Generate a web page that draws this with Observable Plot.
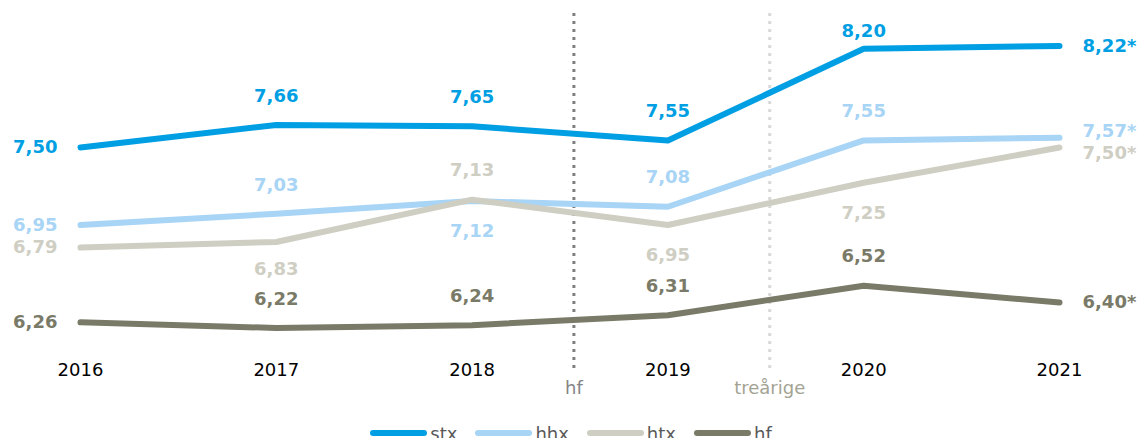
<!DOCTYPE html>
<html>
<head>
<meta charset="utf-8">
<script src="https://cdn.jsdelivr.net/npm/d3@7"></script>
<script src="https://cdn.jsdelivr.net/npm/@observablehq/plot@0.6"></script>
<style>
  html, body { margin: 0; padding: 0; background: #fff; overflow: hidden; }
  #chart svg { display: block; }
  #legend { height: 36px; display: flex; align-items: center; justify-content: center;
    font-family: "DejaVu Sans", Verdana, sans-serif; font-size: 18px; color: #595959; }
  .item { display: flex; align-items: center; margin: 0 9px; }
  .sw { display: inline-block; width: 57px; height: 6px; border-radius: 3px; margin-right: 3px; }
</style>
</head>
<body>
<div id="chart"></div>
<div id="legend"></div>
<script>
// ---- data ----
const years = [2016, 2017, 2018, 2019, 2020, 2021];
const seriesNames = ["stx", "hhx", "htx", "hf"];
const stx = [7.50, 7.66, 7.65, 7.55, 8.20, 8.22];
const hhx = [6.95, 7.03, 7.12, 7.08, 7.55, 7.57];
const htx = [6.79, 6.83, 7.13, 6.95, 7.25, 7.50];
const hf  = [6.26, 6.22, 6.24, 6.31, 6.52, 6.40];
const starredYear = 2021;              // values marked with *
const markerYears = [2018.52, 2019.52]; // reform markers between years
const markerLabels = ["hf", "treårige"];

// ---- styling ----
const colors = ["#009fe3", "#a8d4f5", "#cfcec3", "#7a7a68"];
const markerColors = ["#7f7f7f", "#d9d9d9"];
const markerTextColors = ["#858585", "#a3a393"];
// label placement per series (per year)
const placement = {
  stx: ["left", "above", "above", "above", "aboveNear", "right"],
  hhx: ["left", "above", "below", "above", "above", "rightUp"],
  htx: ["left", "belowNear", "above", "below", "below", "rightDown"],
  hf:  ["left", "above", "above", "above", "above", "right"]
};
const placeStyle = {
  left:      {textAnchor: "end",    dx: -23, dy: 0},
  right:     {textAnchor: "start",  dx: 23,  dy: 0},
  rightUp:   {textAnchor: "start",  dx: 23,  dy: -6},
  rightDown: {textAnchor: "start",  dx: 23,  dy: 6},
  above:     {textAnchor: "middle", dx: 0,   dy: -29},
  aboveNear: {textAnchor: "middle", dx: 0,   dy: -18},
  below:     {textAnchor: "middle", dx: 0,   dy: 30},
  belowNear: {textAnchor: "middle", dx: 0,   dy: 27}
};

const values = {stx, hhx, htx, hf};
const fmt = d3.format(".2f");
const rows = [];
for (const s of seriesNames) {
  years.forEach((yr, i) => {
    rows.push({
      series: s, year: yr, value: values[s][i],
      label: fmt(values[s][i]).replace(".", ",") + (yr === starredYear ? "*" : ""),
      pos: placement[s][i]
    });
  });
}
const markers = markerYears.map((x, i) => ({x, label: markerLabels[i], color: markerColors[i], tcolor: markerTextColors[i]}));

const textMarks = Object.entries(placeStyle).map(([key, st]) =>
  Plot.text(rows.filter(d => d.pos === key), {
    x: "year", y: "value", text: "label", fill: "series",
    textAnchor: st.textAnchor, dx: st.dx, dy: st.dy,
    fontSize: 18, fontWeight: "bold"
  })
);

const chart = Plot.plot({
  width: 1142,
  height: 415,
  marginTop: 6,
  marginBottom: 56.5,
  marginLeft: 80,
  marginRight: 83,
  style: {fontFamily: "DejaVu Sans, Verdana, sans-serif", fontSize: "18px", color: "#000", background: "#fff"},
  x: {domain: [2016, 2021], axis: null},
  y: {domain: [6, 8.5], axis: null},
  color: {domain: seriesNames, range: colors},
  marks: [
    Plot.ruleX(markers, {x: "x", stroke: "color", strokeWidth: 3, strokeDasharray: "3,5", insetTop: 7, insetBottom: -10.5}),
    Plot.text(markers, {x: "x", text: "label", fill: "tcolor", frameAnchor: "bottom", dy: 35, fontSize: 18}),
    Plot.axisX({ticks: years, tickFormat: d => String(d), tickSize: 0, tickPadding: 4, fontSize: 18, fill: "#000"}),
    Plot.line(rows, {x: "year", y: "value", z: "series", stroke: "series", strokeWidth: 6,
      strokeLinecap: "round", strokeLinejoin: "round"}),
    ...textMarks
  ]
});
document.getElementById("chart").append(chart);

const legend = document.getElementById("legend");
seriesNames.forEach((s, i) => {
  const item = document.createElement("div");
  item.className = "item";
  const sw = document.createElement("span");
  sw.className = "sw";
  sw.style.background = colors[i];
  const t = document.createElement("span");
  t.textContent = s;
  item.append(sw, t);
  legend.append(item);
});
</script>
</body>
</html>
